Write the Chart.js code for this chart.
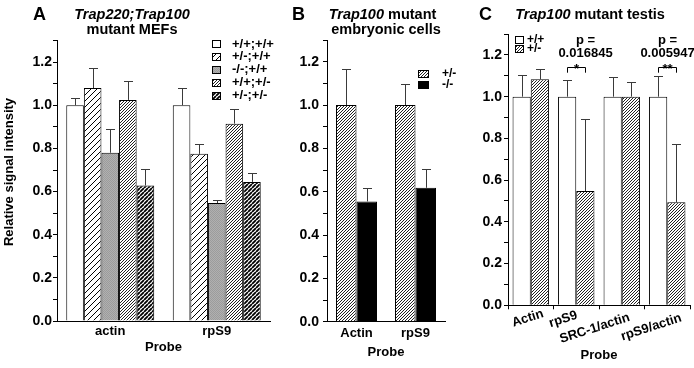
<!DOCTYPE html>
<html><head><meta charset="utf-8">
<script src="https://cdn.jsdelivr.net/npm/chart.js@4.4.1/dist/chart.umd.min.js"></script>
<style>
html,body{margin:0;padding:0;background:#fff}
body{width:694px;height:368px;position:relative;overflow:hidden}
.panel{position:absolute;top:0;height:368px}
</style></head><body>
<div class="panel" style="left:0;width:300px"><canvas id="chartA"></canvas></div>
<div class="panel" style="left:285px;width:185px"><canvas id="chartB"></canvas></div>
<div class="panel" style="left:470px;width:224px"><canvas id="chartC"></canvas></div>
<script>
// ---------------- DATA ----------------
const yTickLabels = ['0.0', '0.2', '0.4', '0.6', '0.8', '1.0', '1.2'];

// Panel A: Trap220;Trap100 mutant MEFs
const aProbes = ['actin', 'rpS9'];
const aGenotypes = ['+/+;+/+', '+/-;+/+', '-/-;+/+', '+/+;+/-', '+/-;+/-'];
const aWtWt    = [1.00, 1.00];
const aHetWt   = [1.08, 0.775];
const aNullWt  = [0.78, 0.547];
const aWtHet   = [1.025, 0.915];
const aHetHet  = [0.628, 0.645];
const aWtWtErr   = [0.033, 0.08];
const aHetWtErr  = [0.093, 0.047];
const aNullWtErr = [0.112, 0.013];
const aWtHetErr  = [0.088, 0.07];
const aHetHetErr = [0.078, 0.042];

// Panel B: Trap100 mutant embryonic cells
const bProbes = ['Actin', 'rpS9'];
const bGenotypes = ['+/-', '-/-'];
const bHet  = [1.00, 1.00];
const bNull = [0.555, 0.618];
const bHetErr  = [0.165, 0.095];
const bNullErr = [0.061, 0.087];

// Panel C: Trap100 mutant testis
const cProbes = ['Actin', 'rpS9', 'SRC-1/actin', 'rpS9/actin'];
const cGenotypes = ['+/+', '+/-'];
const cWt  = [1.00, 1.00, 1.00, 1.00];
const cHet = [1.083, 0.548, 1.00, 0.494];
const cWtErr  = [0.104, 0.08, 0.093, 0.099];
const cHetErr = [0.048, 0.344, 0.072, 0.278];
const cSigProbe = [1, 3];
const cPValues = ['0.016845', '0.005947'];
const cSigMarks = ['*', '**'];

// ---------------- STYLE / LAYOUT ----------------
const FAM = "'Liberation Sans', Arial, Helvetica, sans-serif";
Chart.defaults.font.family = FAM;
Chart.defaults.font.weight = 'bold';
Chart.defaults.font.size = 13;
Chart.defaults.color = '#000';
const F = (px, style) => (style ? style + ' ' : '') + 'bold ' + px + 'px ' + FAM;

function ctxOf(id) { return document.getElementById(id).getContext('2d'); }
function hatch(ctx, p, lw, color, bg) {
  const c = document.createElement('canvas'); c.width = p; c.height = p;
  const g = c.getContext('2d');
  g.fillStyle = bg; g.fillRect(0, 0, p, p);
  g.strokeStyle = color; g.lineWidth = lw;
  g.beginPath();
  for (const o of [-p, 0, p]) { g.moveTo(o, p); g.lineTo(o + p, 0); }
  g.stroke();
  return ctx.createPattern(c, 'repeat');
}
function stipple(ctx) {
  const c = document.createElement('canvas'); c.width = 2; c.height = 2;
  const g = c.getContext('2d');
  g.fillStyle = '#b0b0b0'; g.fillRect(0, 0, 2, 2);
  g.fillStyle = '#9c9c9c'; g.fillRect(0, 0, 1, 1); g.fillRect(1, 1, 1, 1);
  return ctx.createPattern(c, 'repeat');
}

function yAxis(w, pad) {
  return {
    min: 0, max: 1.3,
    afterFit: s => { s.width = w; },
    border: { display: true, color: '#000', width: 1 },
    grid: { drawOnChartArea: false, drawTicks: true, tickLength: 4, color: '#000' },
    ticks: {
      stepSize: 0.1, autoSkip: false, maxTicksLimit: 30, padding: pad,
      font: { size: 14, weight: 'bold' }, color: '#000',
      callback: v => { const k = Math.round(v * 10); return k % 2 === 0 ? yTickLabels[k / 2] : ''; }
    }
  };
}
function xAxis(h, tickPad, titlePad, showLabels, drawTicks) {
  return {
    afterFit: s => { s.height = h; },
    border: { display: true, color: '#000', width: 1 },
    grid: { drawOnChartArea: false, drawTicks: drawTicks, tickLength: 4, color: '#000' },
    ticks: { display: showLabels, padding: tickPad, autoSkip: false, maxRotation: 0,
      font: { size: 13, weight: 'bold' }, color: '#000' },
    title: { display: true, text: 'Probe', color: '#000', font: { size: 13, weight: 'bold' },
      padding: { top: 0, bottom: titlePad } }
  };
}

const errorBars = {
  id: 'errorBars',
  afterDatasetsDraw(chart) {
    const ctx = chart.ctx, ys = chart.scales.y;
    ctx.save(); ctx.strokeStyle = '#3a3a3a'; ctx.lineWidth = 1;
    chart.data.datasets.forEach((ds, di) => {
      chart.getDatasetMeta(di).data.forEach((bar, i) => {
        const x = Math.round(bar.x) + 0.5;
        const yTop = Math.round(ys.getPixelForValue(ds.data[i] + ds.errors[i])) + 0.5;
        ctx.beginPath();
        ctx.moveTo(x, bar.y); ctx.lineTo(x, yTop);
        ctx.moveTo(x - 4.5, yTop); ctx.lineTo(x + 4.5, yTop);
        ctx.stroke();
      });
    });
    ctx.restore();
  }
};

function runs(ctx, parts, cx, cy) {
  let total = 0;
  parts.forEach(p => { ctx.font = p[1]; total += ctx.measureText(p[0]).width; });
  let x = cx - total / 2;
  ctx.textAlign = 'left'; ctx.textBaseline = 'middle'; ctx.fillStyle = '#000';
  parts.forEach(p => { ctx.font = p[1]; ctx.fillText(p[0], x, cy); x += ctx.measureText(p[0]).width; });
}
function legend(ctx, labels, fills, bx, bw, bh, tx, y0, dy, px) {
  ctx.save();
  labels.forEach((lab, i) => {
    const cy = y0 + dy * i;
    const by = Math.round(cy - bh / 2);
    ctx.fillStyle = fills[i];
    ctx.fillRect(bx, by, bw, bh);
    ctx.strokeStyle = '#000'; ctx.lineWidth = 1;
    ctx.strokeRect(bx + 0.5, by + 0.5, bw - 1, bh - 1);
    ctx.fillStyle = '#000'; ctx.font = F(px);
    ctx.textAlign = 'left'; ctx.textBaseline = 'middle';
    ctx.fillText(lab, tx, cy);
  });
  ctx.restore();
}
function panelLetter(ctx, t, x) {
  ctx.font = F(18); ctx.textAlign = 'left'; ctx.textBaseline = 'middle'; ctx.fillStyle = '#000';
  ctx.fillText(t, x, 15);
}
function baseOptions(pad, x, y) {
  return {
    responsive: true, maintainAspectRatio: false, animation: false, devicePixelRatio: 1,
    layout: { padding: pad },
    plugins: { legend: { display: false }, tooltip: { enabled: false } },
    scales: { x: x, y: y }
  };
}

// ---------------- PANEL A ----------------
const ctxA = ctxOf('chartA');
const fillsA = ['#ffffff', hatch(ctxA, 6, 1, '#000', '#fff'), stipple(ctxA),
  hatch(ctxA, 3, 1, '#222', '#fff'), hatch(ctxA, 4, 1.8, '#000', '#fff')];
const aSeries = [aWtWt, aHetWt, aNullWt, aWtHet, aHetHet];
const aErrs = [aWtWtErr, aHetWtErr, aNullWtErr, aWtHetErr, aHetHetErr];
new Chart(ctxA, {
  type: 'bar',
  data: { labels: aProbes, datasets: aGenotypes.map((g, i) => ({
    label: g, data: aSeries[i], errors: aErrs[i], backgroundColor: fillsA[i],
    borderColor: '#000', borderWidth: 1, categoryPercentage: 0.826, barPercentage: 1 })) },
  options: baseOptions({ top: 40.6, right: 30, bottom: 0, left: 0 }, xAxis(47, 3, 13, true, false), yAxis(57, 1)),
  plugins: [errorBars, { id: 'decorA', afterDraw(chart) {
    const ctx = chart.ctx; ctx.save();
    panelLetter(ctx, 'A', 33);
    runs(ctx, [['Trap220;Trap100', F(14.5, 'italic')]], 132, 15);
    runs(ctx, [['mutant MEFs', F(14.5)]], 132, 30);
    ctx.translate(9.5, 172); ctx.rotate(-Math.PI / 2);
    ctx.font = F(13); ctx.textAlign = 'center'; ctx.textBaseline = 'middle';
    ctx.fillText('Relative signal intensity', 0, 0);
    ctx.restore();
    legend(ctx, aGenotypes, fillsA, 212, 9, 8, 232, 44, 12.9, 13);
  } }]
});

// ---------------- PANEL B ----------------
const ctxB = ctxOf('chartB');
const fillsB = [hatch(ctxB, 3, 1, '#222', '#fff'), '#000'];
const bSeries = [bHet, bNull];
const bErrs = [bHetErr, bNullErr];
new Chart(ctxB, {
  type: 'bar',
  data: { labels: bProbes, datasets: bGenotypes.map((g, i) => ({
    label: g, data: bSeries[i], errors: bErrs[i], backgroundColor: fillsB[i],
    borderColor: '#000', borderWidth: 1, categoryPercentage: 0.695, barPercentage: 1 })) },
  options: baseOptions({ top: 40, right: 25, bottom: 0, left: 0 }, xAxis(46.3, 4, 8, true, false), yAxis(42, 4)),
  plugins: [errorBars, { id: 'decorB', afterDraw(chart) {
    const ctx = chart.ctx; ctx.save();
    panelLetter(ctx, 'B', 7);
    runs(ctx, [['Trap100', F(14.5, 'italic')], [' mutant', F(14.5)]], 97.5, 15);
    runs(ctx, [['embryonic cells', F(14.5)]], 101, 30);
    ctx.restore();
    legend(ctx, bGenotypes, fillsB, 133, 11, 8, 157, 74, 10.5, 12);
  } }]
});

// ---------------- PANEL C ----------------
const ctxC = ctxOf('chartC');
const fillsC = ['#ffffff', hatch(ctxC, 3, 1, '#222', '#fff')];
const cSeries = [cWt, cHet];
const cErrs = [cWtErr, cHetErr];
const cLabelNudge = [[-3, 13], [-13, 14], [-27, 23], [-16, 22]];
const cTextShift = [9, 0];
new Chart(ctxC, {
  type: 'bar',
  data: { labels: cProbes, datasets: cGenotypes.map((g, i) => ({
    label: g, data: cSeries[i], errors: cErrs[i], backgroundColor: fillsC[i],
    borderColor: '#000', borderWidth: 1, categoryPercentage: 0.80, barPercentage: 1 })) },
  options: baseOptions({ top: 34.1, right: 4, bottom: 0, left: 0 }, xAxis(62.7, 0, 5, false, true), yAxis(38, 2)),
  plugins: [errorBars, { id: 'decorC', afterDraw(chart) {
    const ctx = chart.ctx, xs = chart.scales.x, ys = chart.scales.y;
    ctx.save();
    panelLetter(ctx, 'C', 9);
    runs(ctx, [['Trap100', F(14.5, 'italic')], [' mutant testis', F(14.5)]], 120, 15);
    // rotated category labels
    chart.data.labels.forEach((lab, i) => {
      const cx = xs.getPixelForValue(i) + cLabelNudge[i][0];
      const cy = chart.chartArea.bottom + cLabelNudge[i][1];
      ctx.save(); ctx.translate(cx, cy); ctx.rotate(-18 * Math.PI / 180);
      ctx.font = F(13); ctx.fillStyle = '#000'; ctx.textAlign = 'center'; ctx.textBaseline = 'middle';
      ctx.fillText(lab, 0, 0); ctx.restore();
    });
    // significance brackets
    const m0 = chart.getDatasetMeta(0), m1 = chart.getDatasetMeta(1);
    cSigProbe.forEach((pi, k) => {
      const x0 = Math.round(m0.data[pi].x) + 0.5, x1 = Math.round(m1.data[pi].x) + 0.5;
      const yb = Math.round(ys.getPixelForValue(1.14)) + 0.5;
      const ye = ys.getPixelForValue(1.115);
      ctx.strokeStyle = '#000'; ctx.lineWidth = 1;
      ctx.beginPath(); ctx.moveTo(x0, ye); ctx.lineTo(x0, yb); ctx.lineTo(x1, yb); ctx.lineTo(x1, ye); ctx.stroke();
      const mid = (x0 + x1) / 2;
      ctx.fillStyle = '#000'; ctx.font = F(13); ctx.textAlign = 'center';
      ctx.textBaseline = 'alphabetic';
      ctx.fillText(cSigMarks[k], mid, yb + 5);
      ctx.textBaseline = 'middle';
      ctx.fillText('p =', mid + cTextShift[k], 40.5);
      ctx.fillText(cPValues[k], mid + cTextShift[k], 53.5);
    });
    ctx.restore();
    legend(ctx, cGenotypes, fillsC, 45, 9, 8, 57, 39.5, 9, 12);
  } }]
});
</script>
</body></html>
